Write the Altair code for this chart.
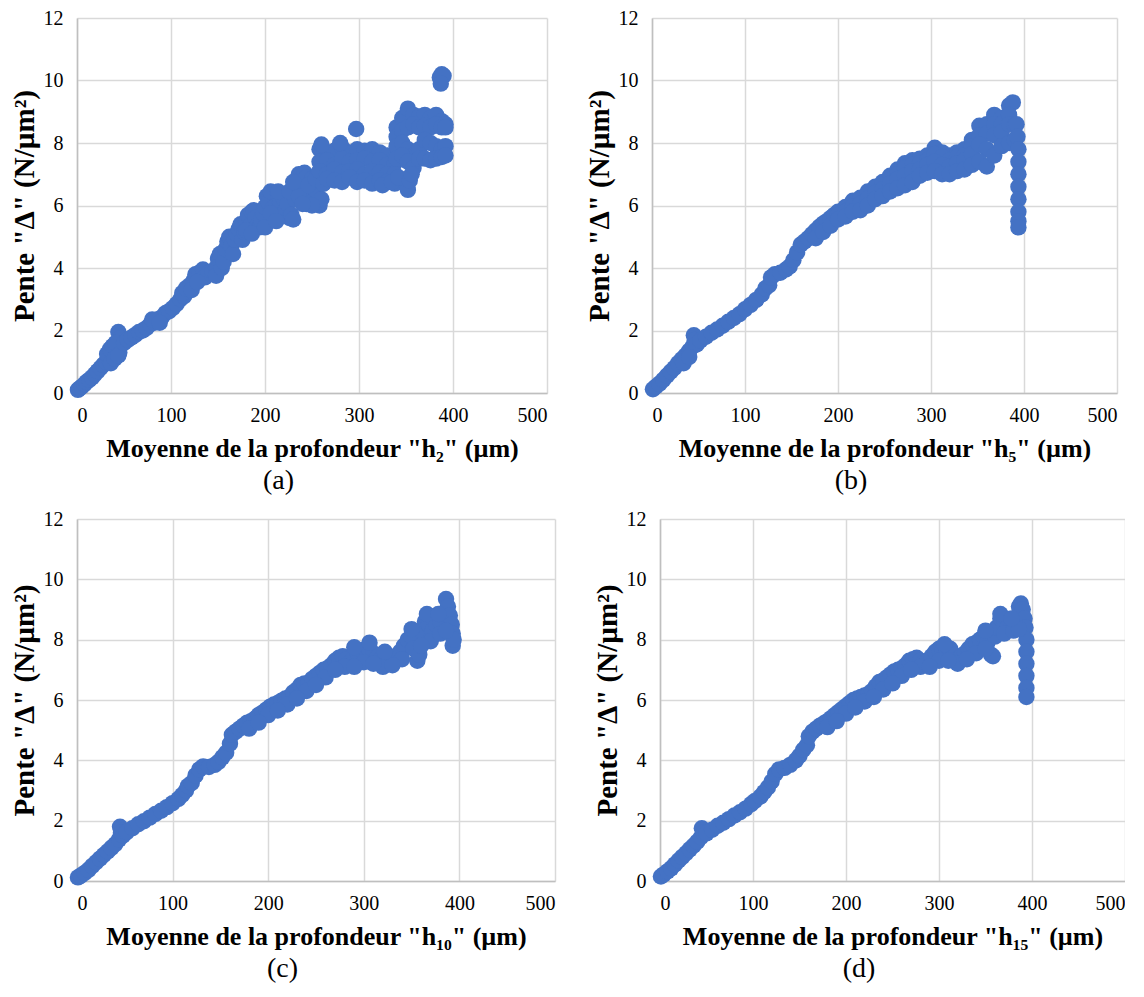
import altair as alt
import pandas as pd

BLUE = "#4472C4"
X_TICKS = [0, 100, 200, 300, 400, 500]
Y_TICKS = [0, 2, 4, 6, 8, 10, 12]
Y_TITLE = 'Pente "Δ" (N/µm²)'
X_TITLES = ['Moyenne de la profondeur "h₂" (µm)', 'Moyenne de la profondeur "h₅" (µm)',
            'Moyenne de la profondeur "h₁₀" (µm)', 'Moyenne de la profondeur "h₁₅" (µm)']
CAPTIONS = ["(a)", "(b)", "(c)", "(d)"]

# ---- panel (a) : h2 ----
pts_a = [
    (1, 0.1), (3, 0.15), (5, 0.2), (8, 0.28), (10, 0.35), (13, 0.42), (16, 0.5), (19, 0.6), (22, 0.7),
    (25, 0.8), (28, 0.9), (31, 1.0), (34, 1.1), (37, 1.2), (40, 1.3), (43, 1.45), (44, 1.95), (46, 1.75),
    (45, 1.3), (32, 1.25), (35, 1.4), (38, 1.5), (41, 1.6), (36, 0.95), (40, 1.1), (44, 1.2),
    (50, 1.6), (54, 1.7), (58, 1.78), (62, 1.86), (66, 1.95), (70, 2.0), (74, 2.08), (78, 2.2), (82, 2.25),
    (86, 2.35), (90, 2.42), (94, 2.55), (98, 2.62), (102, 2.72), (80, 2.35), (88, 2.25),
    (106, 2.85), (110, 3.0), (114, 3.1), (118, 3.25), (120, 3.45), (124, 3.6), (126, 3.8), (130, 3.85),
    (134, 3.95), (136, 3.7), (140, 3.85), (144, 3.9), (148, 4.0), (150, 4.3), (152, 4.45), (148, 3.75),
    (154, 4.0), (156, 4.2), (158, 4.6), (160, 4.85), (162, 5.0), (164, 4.7), (166, 4.45),
    (112, 3.2), (116, 3.35), (122, 3.3), (128, 3.55),
    (168, 4.9), (170, 5.1), (172, 5.25), (174, 5.4), (176, 4.9), (178, 5.15), (180, 5.5), (182, 5.7),
    (184, 5.35), (186, 5.8), (188, 5.85), (190, 5.6), (192, 5.35), (194, 5.3), (196, 5.55), (198, 5.75),
    (200, 5.95), (202, 6.3), (204, 6.1), (206, 6.45), (208, 5.9), (210, 5.6), (212, 6.0), (214, 6.35),
    (216, 6.1), (218, 5.7), (220, 6.2), (222, 5.85), (224, 6.05), (226, 5.6), (228, 5.7), (230, 5.55),
    (232, 6.2), (234, 6.6), (236, 7.0), (238, 6.8), (240, 6.4), (242, 7.05), (244, 6.9), (246, 6.3),
    (248, 6.6), (250, 6.85), (252, 6.1), (254, 6.5), (256, 7.0), (258, 6.0), (260, 6.2), (262, 6.7),
    (180, 5.2), (186, 5.1), (200, 5.3), (206, 5.75), (212, 5.5), (214, 6.45), (226, 6.45), (244, 6.05),
    (250, 6.0), (236, 6.3), (230, 6.75), (246, 6.65), (254, 6.85), (240, 6.05),
    (258, 7.8), (266, 7.7), (274, 7.75), (282, 7.85), (290, 7.7), (298, 7.8), (306, 7.75), (314, 7.8),
    (322, 7.7), (330, 7.6), (338, 7.5),
    (258, 7.4), (266, 7.45), (274, 7.3), (282, 7.5), (290, 7.4), (298, 7.45), (306, 7.5), (314, 7.4),
    (322, 7.45), (330, 7.3), (338, 7.35),
    (258, 7.1), (266, 7.0), (274, 7.15), (282, 7.05), (290, 7.1), (298, 7.15), (306, 7.0), (314, 7.1),
    (322, 7.05), (330, 7.0), (338, 7.0),
    (262, 6.7), (266, 6.85), (274, 6.8), (282, 6.75), (290, 6.9), (298, 6.75), (306, 6.8), (314, 6.7),
    (322, 6.8), (330, 6.75), (338, 6.7),
    (260, 7.95), (297, 8.45), (280, 8.0), (325, 6.65), (335, 6.75), (342, 6.9),
    (340, 8.5), (346, 8.8), (352, 9.1), (358, 8.9), (364, 8.85), (370, 8.9), (376, 8.8), (382, 8.9),
    (388, 8.7), (392, 8.6),
    (340, 8.2), (346, 8.4), (352, 8.5), (358, 8.6), (364, 8.5), (370, 8.55), (376, 8.5), (382, 8.6),
    (388, 8.5), (392, 8.5),
    (340, 7.9), (346, 8.0), (352, 7.8), (358, 7.6), (364, 7.8), (370, 8.1), (376, 8.0), (382, 7.9),
    (388, 7.8), (392, 7.9),
    (340, 7.5), (346, 7.6), (352, 7.4), (358, 7.2), (364, 7.5), (370, 7.5), (376, 7.45), (382, 7.5),
    (388, 7.55), (392, 7.6),
    (352, 6.5), (354, 6.8), (356, 7.0),
    (386, 10.1), (388, 10.2), (390, 10.15), (387, 9.9),
]

# ---- panel (b) : h5 ----
pts_b = [
    (1, 0.12), (4, 0.2), (8, 0.3), (12, 0.42), (16, 0.55), (20, 0.68), (24, 0.8), (28, 0.95), (32, 1.08),
    (36, 1.2), (40, 1.35), (44, 1.5), (45, 1.85), (46, 1.7), (48, 1.55), (34, 0.95), (40, 1.15),
    (52, 1.68), (58, 1.8), (64, 1.93), (70, 2.03), (76, 2.15), (82, 2.28), (88, 2.4), (94, 2.52),
    (100, 2.68), (106, 2.82), (112, 2.98), (118, 3.15), (122, 3.35), (126, 3.45), (128, 3.7), (132, 3.8),
    (138, 3.85), (144, 3.95), (148, 4.05), (152, 4.25), (156, 4.5), (160, 4.75), (164, 4.85), (168, 4.95),
    (172, 5.08), (176, 5.2), (180, 5.32), (184, 5.42), (188, 5.5), (192, 5.6), (196, 5.7),
    (176, 4.95), (184, 5.15), (192, 5.35),
    # top row
    (200, 5.8), (208, 5.95), (216, 6.15), (224, 6.25), (232, 6.45), (240, 6.6), (248, 6.75), (256, 6.95),
    (264, 7.15), (272, 7.35), (280, 7.45), (288, 7.5), (296, 7.6), (304, 7.85), (312, 7.7), (320, 7.6),
    (328, 7.7), (336, 7.8), (344, 8.1), (352, 8.55), (360, 8.6), (368, 8.9), (376, 8.8), (384, 9.2),
    (388, 9.3),
    # upper-middle row
    (264, 7.0), (272, 7.2), (280, 7.3), (288, 7.35), (296, 7.45), (304, 7.65), (312, 7.55), (320, 7.45),
    (328, 7.55), (336, 7.6), (344, 7.9), (352, 8.25), (360, 8.3), (368, 8.6), (376, 8.6), (384, 8.9),
    # middle row
    (200, 5.7), (208, 5.8), (216, 5.97), (224, 6.05), (232, 6.22), (240, 6.4), (248, 6.52), (256, 6.7),
    (264, 6.85), (272, 6.95), (280, 7.1), (288, 7.15), (296, 7.3), (304, 7.4), (312, 7.3), (320, 7.25),
    (328, 7.35), (336, 7.45), (344, 7.65), (352, 7.95), (360, 7.8), (368, 8.25), (376, 8.35), (384, 8.6),
    (390, 8.55),
    # bottom row
    (200, 5.55), (208, 5.65), (216, 5.8), (224, 5.85), (232, 6.0), (240, 6.2), (248, 6.3), (256, 6.45),
    (264, 6.55), (272, 6.65), (280, 6.75), (288, 6.95), (296, 7.05), (304, 7.1), (312, 7.0), (320, 7.0),
    (328, 7.1), (336, 7.15), (344, 7.3), (352, 7.4), (360, 7.25), (368, 7.6), (376, 7.9), (384, 8.0),
    (390, 8.1),
    # final vertical drop
    (392, 8.6), (393, 8.2), (394, 7.8), (394, 7.4), (394, 7.0), (394, 6.6), (394, 6.2), (394, 5.8),
    (394, 5.5), (394, 5.3),
]

# ---- panel (c) : h10 ----
pts_c = [
    (1, 0.12), (4, 0.18), (8, 0.27), (12, 0.37), (16, 0.5), (20, 0.62), (24, 0.74), (28, 0.86), (32, 0.98),
    (36, 1.1), (40, 1.22), (44, 1.38), (45, 1.8), (46, 1.6), (48, 1.5), (52, 1.62), (58, 1.75), (64, 1.88),
    (70, 1.98), (76, 2.1), (82, 2.22), (88, 2.33), (94, 2.45), (100, 2.58), (106, 2.72), (110, 2.85),
    (114, 3.0), (116, 3.15), (120, 3.25), (124, 3.5), (128, 3.7), (132, 3.8), (138, 3.78), (144, 3.85),
    (148, 3.95), (152, 4.1), (156, 4.25), (160, 4.55), (162, 4.85), (166, 4.95), (170, 5.05), (174, 5.15),
    (178, 5.25), (182, 5.3), (186, 5.38), (190, 5.5), (194, 5.58), (198, 5.68), (202, 5.78), (206, 5.85),
    (210, 5.9), (214, 5.98), (218, 6.05), (222, 6.1), (226, 6.25), (230, 6.35), (234, 6.5), (238, 6.55),
    (242, 6.55), (246, 6.7), (250, 6.8), (254, 6.9), (258, 7.0), (262, 7.05), (266, 7.15), (270, 7.3),
    (274, 7.4), (278, 7.45), (282, 7.35), (286, 7.25), (290, 7.4), (294, 7.5), (298, 7.65), (302, 7.7),
    (306, 7.65), (310, 7.55), (314, 7.4), (318, 7.35), (322, 7.3), (326, 7.35), (330, 7.4), (334, 7.45),
    (338, 7.6), (342, 7.8), (346, 8.0), (350, 8.1), (352, 7.7), (356, 7.3), (358, 7.5), (360, 8.3),
    (364, 8.6), (368, 8.5), (372, 8.3), (376, 8.5), (380, 8.6), (384, 8.9), (386, 9.35), (388, 9.1),
    (390, 8.8), (392, 8.5), (393, 8.2), (393, 7.8), (394, 8.0),
    (180, 5.05), (200, 5.5), (220, 5.85), (240, 6.3), (260, 6.75), (280, 7.1), (300, 7.25), (320, 7.1),
    (340, 7.35), (370, 7.95), (380, 8.2), (190, 5.25), (210, 5.65), (230, 6.05), (250, 6.5), (270, 7.0),
    (290, 7.1), (310, 7.2), (330, 7.15), (360, 7.8), (386, 8.3),
    (290, 7.75), (306, 7.9), (322, 7.6), (350, 8.35), (366, 8.85), (378, 8.85),
]

# ---- panel (d) : h15 ----
pts_d = [
    (1, 0.15), (4, 0.22), (8, 0.32), (12, 0.42), (16, 0.55), (20, 0.68), (24, 0.8), (28, 0.92), (32, 1.05),
    (36, 1.17), (40, 1.3), (44, 1.45), (45, 1.75), (47, 1.6), (50, 1.58), (56, 1.7), (62, 1.83), (68, 1.93),
    (74, 2.05), (80, 2.17), (86, 2.28), (92, 2.4), (98, 2.55), (102, 2.65), (108, 2.8), (112, 2.95),
    (116, 3.1), (120, 3.3), (124, 3.55), (128, 3.7), (134, 3.75), (140, 3.85), (146, 4.0), (150, 4.15),
    (154, 4.35), (158, 4.5), (160, 4.8), (164, 4.95), (168, 5.05), (172, 5.15), (176, 5.22), (180, 5.3),
    (184, 5.4), (188, 5.5), (192, 5.6), (196, 5.7), (200, 5.8), (204, 5.9), (208, 6.0), (212, 6.05),
    (216, 6.1), (220, 6.15), (224, 6.2), (228, 6.3), (232, 6.45), (236, 6.6), (240, 6.65), (244, 6.75),
    (248, 6.85), (252, 6.95), (256, 7.0), (260, 7.05), (264, 7.15), (268, 7.3), (272, 7.35), (276, 7.4),
    (280, 7.3), (284, 7.25), (288, 7.3), (292, 7.45), (296, 7.6), (300, 7.7), (304, 7.65), (308, 7.6),
    (312, 7.7), (316, 7.5), (320, 7.35), (324, 7.45), (328, 7.55), (332, 7.7), (336, 7.85), (340, 7.9),
    (344, 8.0), (348, 8.1), (352, 7.9), (356, 7.5), (358, 7.45), (360, 8.1), (362, 8.4), (366, 8.7),
    (370, 8.5), (374, 8.45), (378, 8.5), (382, 8.6), (386, 9.1), (388, 9.2), (390, 9.0), (392, 8.7),
    (393, 8.4), (394, 8.0), (394, 7.6), (394, 7.2), (394, 6.8), (394, 6.4), (394, 6.1),
    (180, 5.1), (200, 5.55), (220, 5.95), (240, 6.35), (260, 6.8), (280, 7.1), (300, 7.3), (320, 7.2),
    (340, 7.55), (370, 8.2), (380, 8.3), (190, 5.3), (210, 5.75), (230, 6.1), (250, 6.55), (270, 7.0),
    (290, 7.1), (310, 7.3), (330, 7.35), (350, 7.7), (386, 8.35),
    (306, 7.85), (350, 8.3), (366, 8.85), (378, 8.7),
]


def panel(pts, xtitle, caption, w, h):
    df = pd.DataFrame(pts, columns=["x", "y"])
    return alt.Chart(df).mark_circle(size=270, color=BLUE, opacity=1).encode(
        x=alt.X("x:Q", scale=alt.Scale(domain=[0, 500], nice=False),
                axis=alt.Axis(values=X_TICKS, title=xtitle)),
        y=alt.Y("y:Q", scale=alt.Scale(domain=[0, 12], nice=False),
                axis=alt.Axis(values=Y_TICKS, title=Y_TITLE)),
    ).properties(
        width=w, height=h,
        title=alt.TitleParams(caption, orient="bottom", frame="bounds", anchor="middle",
                              font="Liberation Serif", fontSize=28, fontWeight="normal",
                              color="#000000", offset=6),
    )


a = panel(pts_a, X_TITLES[0], CAPTIONS[0], 470, 375)
b = panel(pts_b, X_TITLES[1], CAPTIONS[1], 465, 375)
c = panel(pts_c, X_TITLES[2], CAPTIONS[2], 478, 362)
d = panel(pts_d, X_TITLES[3], CAPTIONS[3], 465, 362)

chart = alt.vconcat(
    alt.hconcat(a, b, spacing=38),
    alt.hconcat(c, d, spacing=38),
    spacing=14,
).properties(padding={"left": 2, "top": 0, "right": 0, "bottom": 0}).configure_view(
    stroke=None
).configure_axis(
    gridColor="#d9d9d9", gridWidth=1.5, domainColor="#bfbfbf", domainWidth=1.5,
    ticks=False, labelFont="Liberation Serif", labelFontSize=20, labelColor="#000000",
    titleFont="Liberation Serif", titleFontSize=26, titleFontWeight="bold", titleColor="#000000",
).configure_axisX(labelPadding=12, titlePadding=10).configure_axisY(
    labelPadding=14, titlePadding=4, titleFontSize=29)

chart.save("out.html", embed_options={"renderer": "svg", "actions": False})
